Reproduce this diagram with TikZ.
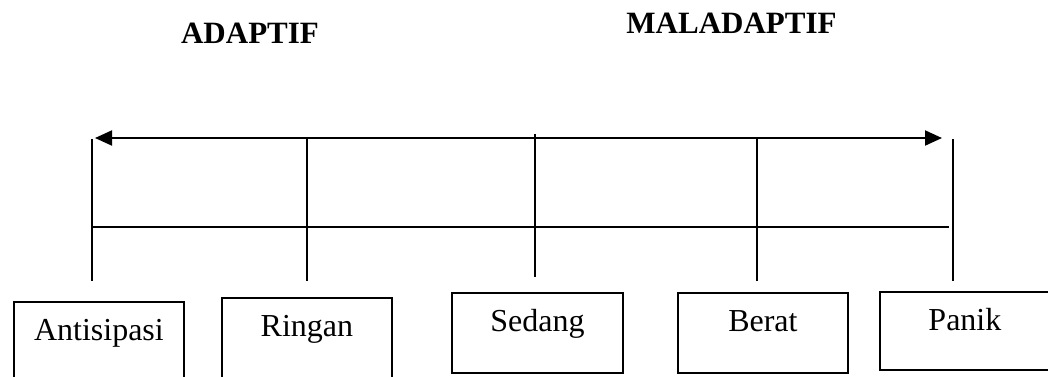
\documentclass[tikz,border=0pt]{standalone}
\usepackage{fontspec}
\setmainfont{Liberation Serif}
\usetikzlibrary{arrows.meta}
\begin{document}
\begin{tikzpicture}[x=1pt,y=-1pt,
  every node/.style={font=\fontsize{32}{36}\selectfont},
  line/.style={line width=2pt},
  level/.style={draw, line width=1.8pt, inner sep=0pt, anchor=north west, text height=39pt},
  head/.style={font=\fontsize{31}{36}\selectfont\bfseries, anchor=base, inner sep=0pt}]
\useasboundingbox (0,0) rectangle (1048,376);
% headings
\node[head] (adaptif) at (250,43) {ADAPTIF};
\node[head] (maladaptif) at (731.5,33) {MALADAPTIF};
% coordinates
\coordinate (a1) at (92,139);  \coordinate (a2) at (92,281);
\coordinate (r1) at (307,138); \coordinate (r2) at (307,281);
\coordinate (s1) at (535,134); \coordinate (s2) at (535,277);
\coordinate (b1) at (757,138); \coordinate (b2) at (757,281);
\coordinate (p1) at (953,139); \coordinate (p2) at (953,281);
\coordinate (h1) at (92,227);  \coordinate (h2) at (949,227);
\coordinate (arrL) at (95,138); \coordinate (arrR) at (942,138);
% lines
\draw[line, {Triangle[length=17pt,width=15pt]}-{Triangle[length=17pt,width=15pt]}] (arrL) -- (arrR);
\draw[line] (h1) -- (h2);
\draw[line] (a1) -- (a2);
\draw[line] (r1) -- (r2);
\draw[line] (s1) -- (s2);
\draw[line] (b1) -- (b2);
\draw[line] (p1) -- (p2);
% boxes
\node[level, minimum width=170pt, text depth=39pt] (ant) at (13,301) {Antisipasi};
\node[level, minimum width=170pt, text depth=42pt] (rin) at (221,297) {Ringan};
\node[level, minimum width=171pt, text depth=41pt] (sed) at (451,292) {Sedang};
\node[level, minimum width=170pt, text depth=41pt] (ber) at (677,292) {Berat};
\node[level, minimum width=170pt, text depth=39pt] (pan) at (879,291) {Panik};
\end{tikzpicture}
\end{document}
